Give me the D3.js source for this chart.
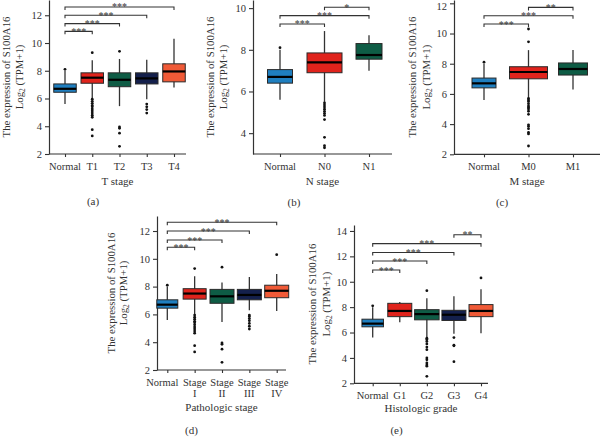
<!DOCTYPE html>
<html><head><meta charset="utf-8">
<script src="https://cdn.jsdelivr.net/npm/d3@7"></script>
<style>
html,body{margin:0;padding:0;background:#fff;}
svg{display:block;font-family:"Liberation Serif","Times New Roman",serif;}
</style></head>
<body><svg id="c" width="600" height="437"></svg>
<script>
// ---------- DATA ----------
// box stats: [lower whisker, Q1, median, Q3, upper whisker]
const aCategories = ["Normal","T1","T2","T3","T4"];
const aBoxes = [[5.6,6.45,6.7,7.05,8.0],[6.0,7.1,7.5,7.85,8.75],[5.45,6.85,7.35,7.85,8.85],[5.95,7.05,7.45,7.85,8.8],[6.8,7.2,7.95,8.5,10.3]];
const aOutliers = [[8.1],[9.3,5.95,5.8,5.65,5.5,5.4,5.25,5.1,4.95,4.8,4.65,3.75,3.3],[9.4,3.95,3.85,3.5,2.55],[5.6,5.4,5.2,4.95],[]];
const aBrackets = [[0,1,"***",10.84],[0,2,"***",11.4],[0,3,"***",12.0],[0,4,"***",12.6]];
const aTicks = [2,4,6,8,10,12];

const bCategories = ["Normal","N0","N1"];
const bBoxes = [[5.6,6.4,6.7,7.05,8.0],[5.5,6.9,7.4,7.85,8.9],[7.0,7.55,7.75,8.3,8.7]];
const bOutliers = [[8.1],[5.45,5.35,5.25,5.15,5.05,4.95,4.85,4.65,3.8,3.4,3.3],[]];
const bBrackets = [[0,1,"***",9.24],[0,2,"***",9.64],[1,2,"*",10.04]];
const bTicks = [4,6,8,10];

const cCategories = ["Normal","M0","M1"];
const cBoxes = [[5.6,6.4,6.7,7.05,8.0],[5.75,7.0,7.45,7.8,8.9],[6.3,7.25,7.65,8.05,8.9]];
const cOutliers = [[8.1],[10.3,9.45,5.7,5.6,5.5,5.35,5.2,5.1,5.0,4.85,4.65,3.95,3.85,3.7,3.45,3.35,2.55],[]];
const cBrackets = [[0,1,"***",10.63],[0,2,"***",11.18],[1,2,"**",11.73]];
const cTicks = [2,4,6,8,10,12];

const dCategories = ["Normal","Stage\nI","Stage\nII","Stage\nIII","Stage\nIV"];
const dBoxes = [[5.6,6.45,6.7,7.05,8.0],[6.0,7.1,7.5,7.85,8.75],[5.45,6.8,7.3,7.8,8.3],[6.3,7.05,7.4,7.8,8.7],[6.25,7.2,7.7,8.1,8.9]];
const dOutliers = [[8.1],[9.3,5.95,5.8,5.65,5.5,5.4,5.25,5.1,4.95,4.8,4.65,3.75,3.3],[9.4,3.95,3.85,3.5,2.55],[5.95,5.85,5.7,5.55,5.35,5.15,4.95],[10.3]];
const dBrackets = [[0,1,"***",10.83],[0,2,"***",11.35],[0,3,"***",12.0],[0,4,"***",12.63]];
const dTicks = [2,4,6,8,10,12];

const eCategories = ["Normal","G1","G2","G3","G4"];
const eBoxes = [[5.6,6.45,6.7,7.05,8.0],[6.8,7.25,7.7,8.3,8.4],[5.6,7.0,7.45,7.8,8.7],[5.9,6.95,7.4,7.75,8.85],[5.95,7.25,7.7,8.2,9.4]];
const eOutliers = [[8.1],[],[9.3,5.55,5.45,5.3,5.1,4.85,4.65,4.0,3.85,3.6,3.45,3.35,2.55],[5.6,5.0,4.95,3.7],[10.3]];
const eBrackets = [[0,1,"***",10.92],[0,2,"***",11.63],[0,3,"***",12.3],[0,4,"***",13.0],[3,4,"**",13.7]];
const eTicks = [2,4,6,8,10,12,14];

const palette = ["#1f7fc0","#e0231c","#0e5c45","#14204c","#f05a37"];

// ---------- DRAW ----------
const svg = d3.select("#c");
const ink = "#333";

function panel(o){
  const g = svg.append("g");
  const y = d3.scaleLinear().domain(o.yDomain).range([o.yBottom, o.yTop]);
  const x = d3.scalePoint().domain(o.cats).range(o.centers);

  // y axis
  const ya = g.append("g").attr("transform",`translate(${o.axisX},0)`)
    .call(d3.axisLeft(y).tickValues(o.ticks).tickSize(4).tickSizeOuter(0).tickPadding(3));
  ya.select(".domain").attr("stroke",ink).attr("stroke-width",1.2);
  ya.selectAll(".tick line").attr("stroke",ink).attr("stroke-width",1.1);
  ya.selectAll(".tick text").attr("fill",ink).attr("font-size",10.5)
    .attr("font-family","Liberation Serif, serif")
    .attr("dy",d=>y(d)<5 ? "0.62em" : "0.32em");

  // x axis
  g.append("line").attr("x1",o.axisX).attr("x2",o.axisEnd)
    .attr("y1",o.yBottom).attr("y2",o.yBottom).attr("stroke",ink).attr("stroke-width",1.2);
  const xa = g.append("g").attr("transform",`translate(0,${o.yBottom})`)
    .call(d3.axisBottom(x).tickSize(3).tickSizeOuter(0));
  xa.select(".domain").remove();
  xa.selectAll(".tick line").attr("stroke",ink).attr("stroke-width",1.1);
  xa.selectAll(".tick text").remove();
  o.cats.forEach((c,i)=>{
    const lines = c.split("\n");
    const sx = x(c)+((o.labelShift&&o.labelShift[i])||0);
    const t = g.append("text").attr("text-anchor","middle").attr("fill",ink)
      .attr("font-size",10.5).attr("x",sx).attr("y",o.yBottom+15.5);
    lines.forEach((l,k)=>t.append("tspan").attr("x",sx).attr("dy",k?11.5:0).text(l));
  });
  g.append("text").attr("text-anchor","middle").attr("fill",ink).attr("font-size",11)
    .attr("x",(o.axisX+o.axisEnd)/2).attr("y",o.titleY).text(o.title);

  // y title
  const cy = (o.yTop+o.yBottom)/2;
  g.append("text").attr("transform",`translate(${o.axisX+o.yt1},${cy}) rotate(-90)`)
    .attr("text-anchor","middle").attr("fill",ink).attr("font-size",10.8)
    .text("The expression of S100A16");
  const t2 = g.append("text").attr("transform",`translate(${o.axisX+o.yt2},${cy}) rotate(-90)`)
    .attr("text-anchor","middle").attr("fill",ink).attr("font-size",10.8);
  t2.append("tspan").text("Log");
  t2.append("tspan").attr("font-size",7.5).attr("dy",2.5).text("2");
  t2.append("tspan").attr("dy",-2.5).text(" (TPM+1)");

  // boxes
  o.boxes.forEach((b,i)=>{
    const cx = x(o.cats[i]);
    const w = o.widths[i];
    const gg = g.append("g");
    gg.append("line").attr("x1",cx).attr("x2",cx).attr("y1",y(b[0])).attr("y2",y(b[4]))
      .attr("stroke",ink).attr("stroke-width",1.3);
    gg.append("rect").attr("x",cx-w/2).attr("width",w).attr("y",y(b[3])).attr("height",y(b[1])-y(b[3]))
      .attr("fill",palette[i]).attr("stroke","#2a2a2a").attr("stroke-width",1);
    gg.append("line").attr("x1",cx-w/2).attr("x2",cx+w/2).attr("y1",y(b[2])).attr("y2",y(b[2]))
      .attr("stroke","#000").attr("stroke-width",2.2);
    o.outliers[i].forEach(v=>{
      gg.append("circle").attr("cx",cx).attr("cy",y(v)).attr("r",1.4).attr("fill","#111");
    });
  });

  // significance brackets
  o.brackets.forEach(br=>{
    const x1 = x(o.cats[br[0]]), x2 = x(o.cats[br[1]]), yy = y(br[3]);
    g.append("path").attr("d",`M${x1},${yy+3}V${yy}H${x2}V${yy+3}`)
      .attr("fill","none").attr("stroke",ink).attr("stroke-width",1.1);
    g.append("text").attr("x",(x1+x2)/2).attr("y",yy+3.5).attr("text-anchor","middle")
      .attr("font-size",10).attr("fill",ink).text(br[2]);
  });

  // panel label
  g.append("text").attr("x",o.lab[0]).attr("y",o.lab[1]).attr("text-anchor","middle")
    .attr("fill",ink).attr("font-size",11).text(o.label);
}

panel({cats:aCategories,boxes:aBoxes,outliers:aOutliers,brackets:aBrackets,ticks:aTicks,
  yDomain:[2,13.1],yBottom:154,yTop:0,axisX:49,axisEnd:186,centers:[65,174],
  widths:[22.5,22.5,22.5,22.5,22.5],title:"T stage",titleY:185,yt1:-39.5,yt2:-26.5,label:"(a)",lab:[93,205]});
panel({cats:bCategories,boxes:bBoxes,outliers:bOutliers,brackets:bBrackets,ticks:bTicks,
  yDomain:[3,10.39],yBottom:154,yTop:0,axisX:253,axisEnd:392,centers:[280,369],
  widths:[25,35,26],title:"N stage",titleY:185,yt1:-39.5,yt2:-26.5,label:"(b)",lab:[294,206]});
panel({cats:cCategories,boxes:cBoxes,outliers:cOutliers,brackets:cBrackets,ticks:cTicks,
  yDomain:[2,12.22],yBottom:154.3,yTop:0,axisX:454,axisEnd:600,centers:[484,573],
  widths:[24,38,29],title:"M stage",titleY:185,yt1:-38.5,yt2:-24.5,label:"(c)",lab:[502,206]});
panel({cats:dCategories,boxes:dBoxes,outliers:dOutliers,brackets:dBrackets,ticks:dTicks,
  yDomain:[2,13.08],yBottom:370,yTop:216,axisX:157,axisEnd:286,centers:[167.3,276.7],
  widths:[21,23,24,24,24],labelShift:[-5,0,0,0,0],title:"Pathologic stage",titleY:411,yt1:-42.5,yt2:-30.5,label:"(d)",lab:[191.5,434]});
panel({cats:eCategories,boxes:eBoxes,outliers:eOutliers,brackets:eBrackets,ticks:eTicks,
  yDomain:[2,14.47],yBottom:383.3,yTop:225,axisX:354,axisEnd:488,centers:[372.7,481],
  widths:[21.5,24,24.5,24,24],title:"Histologic grade",titleY:412,yt1:-38.5,yt2:-24.5,label:"(e)",lab:[396.5,434]});
</script>
</body></html>
